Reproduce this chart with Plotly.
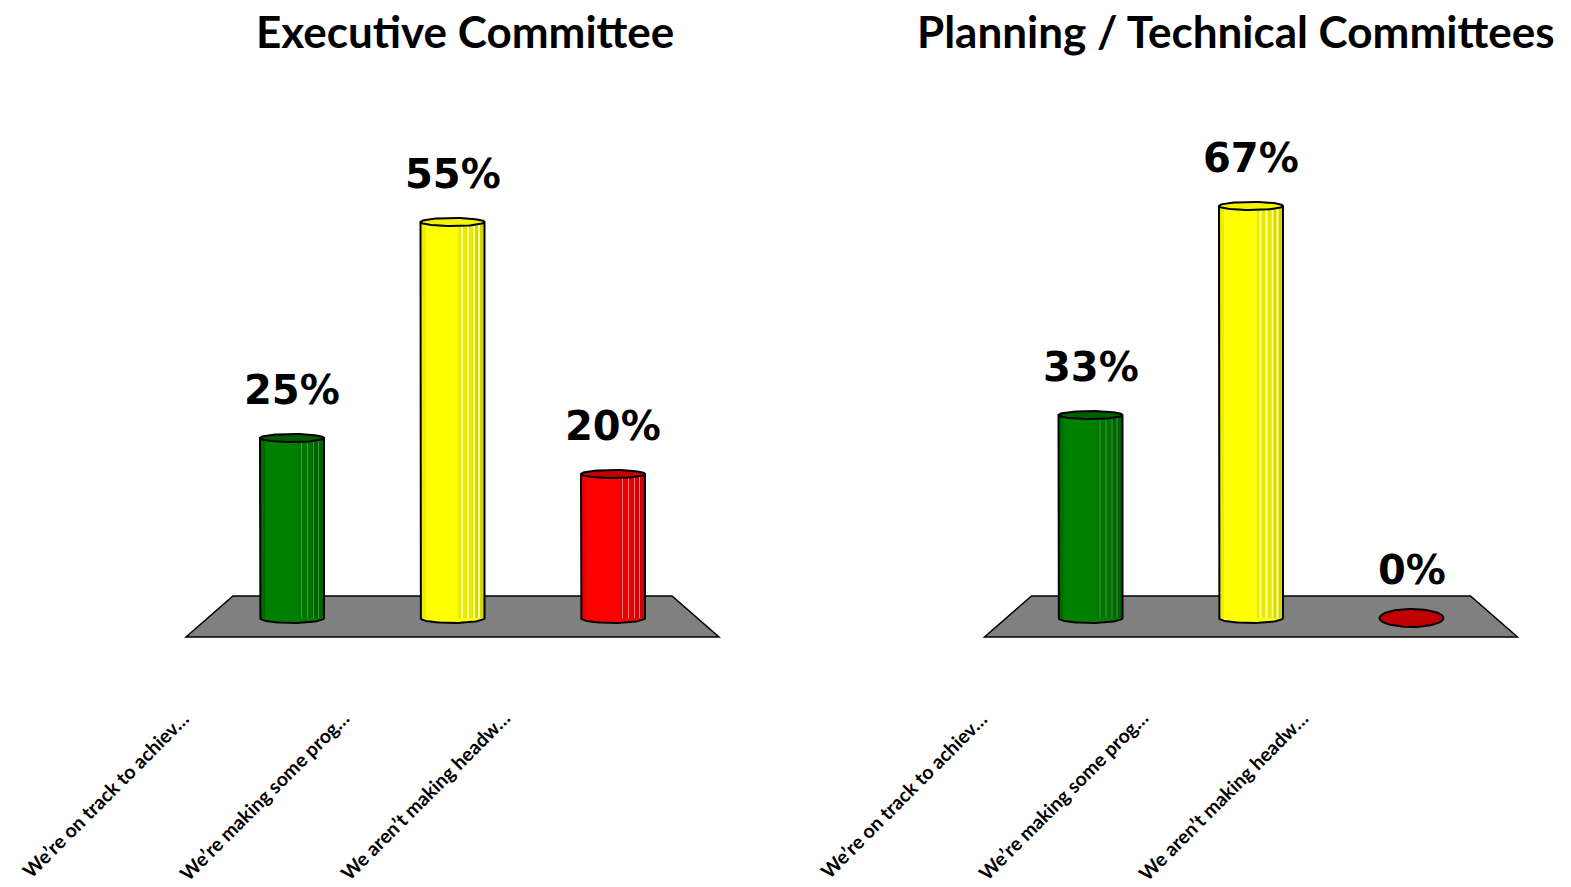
import numpy as np
import plotly.graph_objects as go

# ---- data -------------------------------------------------------------
categories = [
    "We’re on track to achiev…",
    "We’re making some prog…",
    "We aren’t making headw…",
]
executive_pct = [25, 55, 20]
planning_pct = [33, 67, 0]
titles = ["Executive Committee", "Planning / Technical Committees"]

# ---- styling ----------------------------------------------------------
FIG_W, FIG_H = 1571, 887

body_colors = ["#008000", "#FFFF00", "#FF0000"]
edge_colors = ["#006C00", "#EDED00", "#E80000"]
band_colors = ["#007400", "#E8E800", "#E60000"]
rim_colors = ["#006400", "#D6D600", "#D20000"]
glint_colors = ["#3C9C3C", "#FFFF9A", "#FF7A7A"]
cap_colors = ["#006000", "#F4F400", "#C00000"]

BAR_PX = 64          # cylinder diameter in pixels
CAP_RY_PX = 4        # half-height of the top ellipse
FLAT_CAP_RY_PX = 9   # an empty cylinder is seen as a flat disc on the floor
BASE_RY_PX = 5       # depth of the bottom arc
FLOOR_PX = [(-59, 22), (380, 22), (427, -19), (-106, -19)]  # floor corners around the first category

panels = [
    dict(values=executive_pct, title=titles[0], xa="x", ya="y", domain=(0.0, 0.5),
         x0_px=292.0, x_scale=160.5, y0_px=618.0, y_scale=7.2, title_cx=465),
    dict(values=planning_pct, title=titles[1], xa="x2", ya="y2", domain=(0.5, 1.0),
         x0_px=1090.5, x_scale=160.5, y0_px=618.0, y_scale=6.15, title_cx=1236),
]

fig = go.Figure()
axes = {}
shapes = []
annotations = []

for k, p in enumerate(panels):
    xs, ys = p["x_scale"], p["y_scale"]
    d0, d1 = p["domain"][0] * FIG_W, p["domain"][1] * FIG_W
    x_range = [(d0 - p["x0_px"]) / xs, (d1 - p["x0_px"]) / xs]
    y_range = [-(FIG_H - p["y0_px"]) / ys, p["y0_px"] / ys]
    sfx = "" if k == 0 else str(k + 1)
    axes["xaxis" + sfx] = dict(domain=list(p["domain"]), range=x_range, visible=False,
                               fixedrange=True, anchor="y" + sfx)
    axes["yaxis" + sfx] = dict(domain=[0, 1], range=y_range, visible=False,
                               fixedrange=True, anchor="x" + sfx)

    xpos = list(range(len(categories)))
    vals = p["values"]
    bw = BAR_PX / xs
    hw = bw / 2
    common = dict(xaxis=p["xa"], yaxis=p["ya"], hoverinfo="skip", showlegend=False)

    # gray floor
    pts = [(px / xs, py / ys) for px, py in FLOOR_PX]
    path = "M " + " L ".join(f"{a:.4f},{b:.4f}" for a, b in pts) + " Z"
    shapes.append(dict(type="path", path=path, xref=p["xa"], yref=p["ya"],
                       fillcolor="#808080", line=dict(color="black", width=1.5), layer="below"))

    # cylinder bodies
    fig.add_trace(go.Bar(x=xpos, y=vals, width=bw,
                         marker=dict(color=body_colors, line=dict(width=0)), **common))

    def band(off_px, w_px, colors):
        fig.add_trace(go.Bar(x=xpos, y=vals, width=w_px / xs, offset=off_px / xs,
                             marker=dict(color=colors, line=dict(width=0)), **common))

    band(-BAR_PX / 2, 5, edge_colors)
    band(6, 14, band_colors)
    band(20, 12, rim_colors)
    for off in (9, 15, 21, 26):
        band(off, 1, glint_colors)

    # rounded bottoms, caps and outlines
    ry_base = BASE_RY_PX / ys
    tb = np.linspace(np.pi, 2 * np.pi, 41)
    tt = np.linspace(0, 2 * np.pi, 81)
    for i, v in enumerate(vals):
        cx = xpos[i]
        if v > 0:
            ry_top = CAP_RY_PX / ys
            base_x = cx + hw * np.cos(tb)
            base_y = ry_base * np.sin(tb)
            fig.add_trace(go.Scatter(
                x=np.concatenate([[cx - hw], base_x, [cx + hw]]),
                y=np.concatenate([[0], base_y, [0]]),
                mode="lines", fill="toself", fillcolor=body_colors[i],
                line=dict(width=0), **common))
        else:
            ry_top = FLAT_CAP_RY_PX / ys
        cap_x = cx + hw * np.cos(tt)
        cap_y = v + ry_top * np.sin(tt)
        fig.add_trace(go.Scatter(x=cap_x, y=cap_y, mode="lines", fill="toself",
                                 fillcolor=cap_colors[i], line=dict(width=0), **common))
        if v > 0:
            out_x = np.concatenate([[cx - hw, cx - hw], base_x, [cx + hw], cap_x])
            out_y = np.concatenate([[v, 0], base_y, [v], cap_y])
        else:
            out_x, out_y = cap_x, cap_y
        fig.add_trace(go.Scatter(x=out_x, y=out_y, mode="lines",
                                 line=dict(color="black", width=2), **common))

        # value label
        annotations.append(dict(
            x=cx, y=v, xref=p["xa"], yref=p["ya"], text=f"{v}%", showarrow=False,
            yshift=48, font=dict(family="DejaVu Sans", size=40, color="black", weight="bold")))
        # category label
        annotations.append(dict(
            x=cx, y=0, xref=p["xa"], yref=p["ya"], text=categories[i], showarrow=False,
            xanchor="right", yanchor="top", xshift=-96, yshift=-86, textangle=-45,
            font=dict(family="Lato", size=19.5, color="black", weight="bold")))

    annotations.append(dict(
        x=p["title_cx"] / FIG_W, y=1 - 31 / FIG_H, xref="paper", yref="paper",
        text=p["title"], showarrow=False, xanchor="center", yanchor="middle",
        font=dict(family="Lato", size=44, color="black", weight="bold")))

fig.update_layout(
    width=FIG_W, height=FIG_H,
    margin=dict(l=0, r=0, t=0, b=0),
    paper_bgcolor="white", plot_bgcolor="white",
    barmode="overlay", showlegend=False, hovermode=False,
    shapes=shapes, annotations=annotations,
    **axes,
)

fig.write_html("out.html")
